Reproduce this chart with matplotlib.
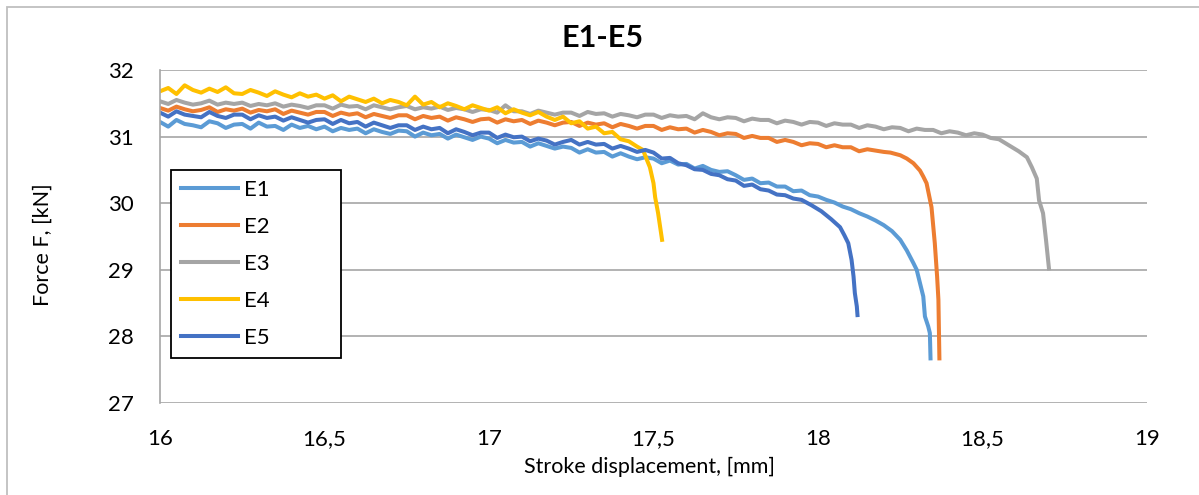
import numpy as np
import matplotlib
matplotlib.use("Agg")
import matplotlib.pyplot as plt
from matplotlib.patches import Rectangle

plt.rcParams['font.family'] = ['Lato', 'DejaVu Sans']

# dados (passo 0.025 mm na parte plana, depois a queda)
STEP = 0.025

e1_flat = [31.22, 31.15, 31.25, 31.19, 31.17, 31.14, 31.23, 31.20, 31.13, 31.18,
           31.19, 31.12, 31.21, 31.15, 31.16, 31.10, 31.18, 31.13, 31.16, 31.11,
           31.15, 31.08, 31.13, 31.10, 31.12, 31.05, 31.11, 31.07, 31.04, 31.09,
           31.08, 31.00, 31.06, 31.02, 31.04, 30.97, 31.03, 30.99, 30.95, 31.00,
           30.97, 30.90, 30.95, 30.91, 30.92, 30.85, 30.90, 30.86, 30.82, 30.85,
           30.83, 30.76, 30.81, 30.76, 30.77, 30.70, 30.75, 30.70, 30.66, 30.69,
           30.67, 30.60, 30.64, 30.58, 30.59, 30.52, 30.56, 30.50, 30.47, 30.48,
           30.42, 30.35, 30.37, 30.30, 30.31, 30.25, 30.25, 30.18, 30.19, 30.12,
           30.10]
e1_tail_x = [18.025, 18.05, 18.075, 18.10, 18.125, 18.15, 18.175, 18.20, 18.225, 18.25,
             18.27, 18.29, 18.30, 18.31, 18.32, 18.325, 18.335, 18.34, 18.342]
e1_tail_y = [30.05, 30.01, 29.95, 29.91, 29.85, 29.80, 29.74, 29.67, 29.58, 29.45,
             29.29, 29.10, 29.00, 28.80, 28.60, 28.30, 28.15, 28.05, 27.67]

e2_flat = [31.43, 31.39, 31.45, 31.41, 31.38, 31.40, 31.44, 31.37, 31.41, 31.39,
           31.42, 31.36, 31.40, 31.38, 31.41, 31.34, 31.39, 31.36, 31.33, 31.37,
           31.37, 31.31, 31.36, 31.33, 31.35, 31.29, 31.34, 31.31, 31.28, 31.32,
           31.32, 31.26, 31.31, 31.28, 31.30, 31.24, 31.29, 31.26, 31.22, 31.26,
           31.27, 31.21, 31.26, 31.23, 31.25, 31.19, 31.24, 31.21, 31.17, 31.21,
           31.22, 31.16, 31.21, 31.18, 31.20, 31.14, 31.19, 31.16, 31.12, 31.16,
           31.16, 31.10, 31.14, 31.11, 31.12, 31.06, 31.10, 31.07, 31.02, 31.05,
           31.04, 30.98, 31.01, 30.98, 30.98, 30.92, 30.95, 30.92, 30.87, 30.90,
           30.89, 30.84, 30.87, 30.84, 30.84, 30.78, 30.81, 30.79, 30.77]
e2_tail_x = [18.22, 18.25, 18.27, 18.29, 18.31, 18.32, 18.33, 18.345, 18.355,
             18.362, 18.366, 18.369]
e2_tail_y = [30.76, 30.72, 30.67, 30.60, 30.49, 30.40, 30.30, 29.94, 29.40,
             28.90, 28.55, 27.67]

e3_flat = [31.53, 31.49, 31.55, 31.51, 31.48, 31.50, 31.54, 31.48, 31.51, 31.49,
           31.51, 31.46, 31.49, 31.47, 31.50, 31.45, 31.48, 31.46, 31.43, 31.47,
           31.47, 31.42, 31.48, 31.45, 31.46, 31.41, 31.47, 31.44, 31.41, 31.44,
           31.46, 31.41, 31.44, 31.42, 31.45, 31.40, 31.43, 31.41, 31.37, 31.41,
           31.40, 31.36, 31.47, 31.38, 31.38, 31.34, 31.39, 31.36, 31.33, 31.36,
           31.36, 31.31, 31.37, 31.34, 31.35, 31.30, 31.34, 31.32, 31.29, 31.33,
           31.33, 31.28, 31.32, 31.30, 31.31, 31.26, 31.35, 31.29, 31.26, 31.29,
           31.28, 31.23, 31.27, 31.25, 31.25, 31.20, 31.24, 31.22, 31.18, 31.22,
           31.21, 31.16, 31.20, 31.18, 31.18, 31.13, 31.17, 31.15, 31.11, 31.14,
           31.13, 31.08, 31.12, 31.10, 31.10, 31.05, 31.08, 31.06, 31.02, 31.05,
           31.03, 30.98, 30.96]
e3_tail_x = [18.57, 18.59, 18.61, 18.635, 18.65, 18.665, 18.672, 18.684, 18.693, 18.702]
e3_tail_y = [30.90, 30.84, 30.78, 30.69, 30.54, 30.37, 30.04, 29.85, 29.45, 29.02]

e4_flat = [31.68, 31.73, 31.64, 31.77, 31.70, 31.66, 31.72, 31.67, 31.74, 31.65,
           31.64, 31.70, 31.66, 31.61, 31.68, 31.63, 31.59, 31.65, 31.60, 31.63,
           31.57, 31.62, 31.53, 31.60, 31.56, 31.52, 31.57, 31.50, 31.55, 31.52,
           31.47, 31.60, 31.48, 31.52, 31.44, 31.50, 31.46, 31.41, 31.47, 31.43,
           31.39, 31.44, 31.35, 31.41, 31.36, 31.32, 31.37, 31.30, 31.25, 31.30,
           31.20, 31.23, 31.12, 31.15, 31.05, 31.07, 30.96, 30.93, 30.85]
e4_tail_x = [17.468, 17.48, 17.489, 17.50, 17.505, 17.514, 17.52, 17.526]
e4_tail_y = [30.80, 30.65, 30.54, 30.30, 30.09, 29.85, 29.65, 29.45]

e5_flat = [31.36, 31.30, 31.38, 31.33, 31.31, 31.29, 31.37, 31.31, 31.28, 31.33,
           31.33, 31.26, 31.32, 31.28, 31.30, 31.24, 31.29, 31.25, 31.21, 31.25,
           31.26, 31.19, 31.25, 31.20, 31.22, 31.15, 31.21, 31.17, 31.13, 31.17,
           31.17, 31.10, 31.15, 31.11, 31.13, 31.05, 31.11, 31.07, 31.02, 31.06,
           31.06, 30.98, 31.03, 30.99, 31.00, 30.93, 30.97, 30.94, 30.88, 30.92,
           30.95, 30.88, 30.92, 30.88, 30.89, 30.82, 30.86, 30.82, 30.77, 30.80,
           30.76, 30.67, 30.68, 30.60, 30.57, 30.51, 30.50, 30.44, 30.42, 30.36,
           30.34, 30.26, 30.28, 30.21, 30.19, 30.13, 30.12, 30.07, 30.05]
e5_tail_x = [17.98, 18.01, 18.04, 18.067, 18.08, 18.092, 18.102, 18.108, 18.112, 18.118, 18.12]
e5_tail_y = [29.97, 29.88, 29.76, 29.64, 29.52, 29.40, 29.15, 28.90, 28.65, 28.45, 28.32]

labels = ['E1', 'E2', 'E3', 'E4', 'E5']
cores = ['#5B9BD5', '#ED7D31', '#A5A5A5', '#FFC000', '#4472C4']

x_ticks = [16, 16.5, 17, 17.5, 18, 18.5, 19]
x_ticklabels = ['16', '16,5', '17', '17,5', '18', '18,5', '19']
y_ticks = [27, 28, 29, 30, 31, 32]


def montar_serie(flat, tail_x, tail_y):
    xs = [round(16.0 + i * STEP, 3) for i in range(len(flat))]
    return xs + tail_x, flat + tail_y


series = [
    montar_serie(e1_flat, e1_tail_x, e1_tail_y),
    montar_serie(e2_flat, e2_tail_x, e2_tail_y),
    montar_serie(e3_flat, e3_tail_x, e3_tail_y),
    montar_serie(e4_flat, e4_tail_x, e4_tail_y),
    montar_serie(e5_flat, e5_tail_x, e5_tail_y),
]

W, H = 1199, 495
fig = plt.figure(figsize=(W / 100, H / 100), dpi=100)
ax = fig.add_axes([160 / W, 1 - 403 / H, 987 / W, 333 / H])

for (xs, ys), lab, cor in zip(series, labels, cores):
    ax.plot(xs, ys, color=cor, lw=2.9, label=lab, solid_joinstyle='round')

ax.set_xlim(16, 19)
ax.set_ylim(27, 32)
ax.set_xticks(x_ticks)
ax.set_xticklabels(x_ticklabels)
ax.set_yticks(y_ticks)

grid_cor = '#A6A6A6'
ax.yaxis.grid(True, color=grid_cor, lw=1.2)
ax.set_axisbelow(True)
for lado in ['top', 'right', 'bottom']:
    ax.spines[lado].set_visible(False)
ax.spines['left'].set_color(grid_cor)
ax.spines['left'].set_linewidth(1.2)
ax.tick_params(length=0, labelsize=16, pad=19, colors='black')

fig.text(603 / W, 1 - 38 / H, 'E1-E5', ha='center', va='center',
         fontsize=22, fontweight='bold')
fig.text(650 / W, 1 - 467 / H, 'Stroke displacement, [mm]', ha='center',
         va='center', fontsize=15.5)
fig.text(43 / W, 1 - 245 / H, 'Force F, [kN]', ha='center', va='center',
         rotation=90, fontsize=15.5)

leg = ax.legend(loc='upper left',
                bbox_to_anchor=((170.7 - 160) / 987, (403 - 170) / 333 - 0.01, 170 / 987, 0.01),
                mode='expand', borderaxespad=0, fancybox=False, framealpha=1,
                edgecolor='black', fontsize=16, handlelength=2.6, handletextpad=0.25,
                labelspacing=0.76, borderpad=0.45)
leg.get_frame().set_linewidth(1.3)

# moldura externa do grafico
fig.patches.append(Rectangle((7 / W, -0.1), 1.2, 1 - 7 / H + 0.1,
                             transform=fig.transFigure, fill=False,
                             edgecolor='#BFBFBF', lw=1.3))

fig.savefig('out.png', dpi=100)
